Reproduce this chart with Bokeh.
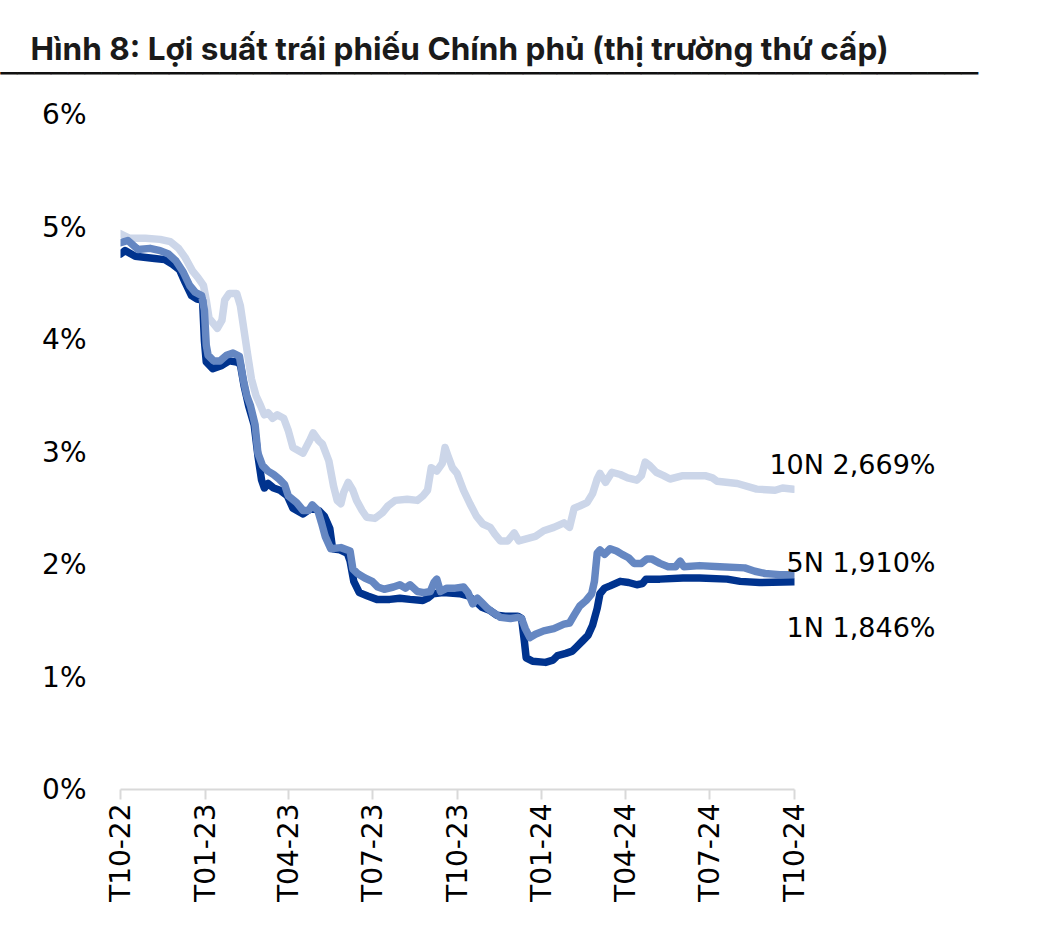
import math
import pandas as pd
from bokeh.plotting import figure
from bokeh.models import (Range1d, FixedTicker, DatetimeTickFormatter,
                          PrintfTickFormatter, Label)
from bokeh.embed import file_html
from bokeh.resources import INLINE

TITLE = "Hình 8:  Lợi suất trái phiếu Chính phủ (thị trường thứ cấp)"

tick_dates = ["2022-10-01", "2023-01-01", "2023-04-01", "2023-07-01", "2023-10-01",
              "2024-01-01", "2024-04-01", "2024-07-01", "2024-10-01"]
y_ticks = [0, 1, 2, 3, 4, 5, 6]

series_names = ["10N", "5N", "1N"]

dates_10n = ["2022-10-01", "2022-10-11", "2022-10-28", "2022-11-13", "2022-11-24", "2022-12-03",
             "2022-12-10", "2022-12-18", "2022-12-24", "2022-12-30", "2023-01-02", "2023-01-05",
             "2023-01-14", "2023-01-19", "2023-01-22", "2023-01-27", "2023-02-04", "2023-02-08",
             "2023-02-12", "2023-02-16", "2023-02-20", "2023-02-25", "2023-03-02", "2023-03-06",
             "2023-03-10", "2023-03-15", "2023-03-20", "2023-03-27", "2023-04-01", "2023-04-06",
             "2023-04-17", "2023-04-24", "2023-04-28", "2023-05-04", "2023-05-08", "2023-05-15",
             "2023-05-20", "2023-05-24", "2023-05-28", "2023-05-31", "2023-06-05", "2023-06-10",
             "2023-06-14", "2023-06-20", "2023-06-25", "2023-07-04", "2023-07-12", "2023-07-18",
             "2023-07-26", "2023-08-08", "2023-08-19", "2023-08-25", "2023-08-30", "2023-09-03",
             "2023-09-09", "2023-09-15", "2023-09-18", "2023-09-21", "2023-09-26", "2023-10-01",
             "2023-10-08", "2023-10-15", "2023-10-22", "2023-10-29", "2023-11-06", "2023-11-11",
             "2023-11-17", "2023-11-25", "2023-12-02", "2023-12-07", "2023-12-16", "2023-12-25",
             "2024-01-03", "2024-01-14", "2024-01-25", "2024-01-31", "2024-02-05", "2024-02-11",
             "2024-02-19", "2024-02-25", "2024-03-01", "2024-03-04", "2024-03-10", "2024-03-17",
             "2024-03-26", "2024-04-03", "2024-04-13", "2024-04-18", "2024-04-22", "2024-04-27",
             "2024-05-04", "2024-05-12", "2024-05-19", "2024-06-02", "2024-06-26", "2024-07-04",
             "2024-07-09", "2024-07-31", "2024-08-21", "2024-09-10", "2024-09-18", "2024-09-30"]
yield_10n = [4.94, 4.90, 4.90, 4.89, 4.87, 4.81,
             4.73, 4.61, 4.55, 4.48, 4.35, 4.19,
             4.10, 4.17, 4.35, 4.41, 4.41, 4.30,
             4.08, 3.86, 3.65, 3.50, 3.41, 3.33,
             3.35, 3.30, 3.33, 3.30, 3.19, 3.04,
             2.99, 3.10, 3.17, 3.10, 3.07, 2.92,
             2.70, 2.57, 2.54, 2.64, 2.73, 2.66,
             2.57, 2.48, 2.42, 2.41, 2.46, 2.52,
             2.57, 2.58, 2.57, 2.61, 2.66, 2.86,
             2.83, 2.90, 3.04, 2.97, 2.86, 2.81,
             2.66, 2.54, 2.43, 2.36, 2.33, 2.27,
             2.21, 2.21, 2.28, 2.21, 2.23, 2.25,
             2.30, 2.33, 2.37, 2.33, 2.50, 2.52,
             2.55, 2.63, 2.76, 2.81, 2.73, 2.82,
             2.80, 2.77, 2.75, 2.79, 2.91, 2.88,
             2.82, 2.79, 2.76, 2.79, 2.79, 2.77,
             2.74, 2.72, 2.67, 2.66, 2.68, 2.669]

dates_5n = ["2022-10-01", "2022-10-09", "2022-10-20", "2022-11-02", "2022-11-13", "2022-11-22",
            "2022-11-30", "2022-12-08", "2022-12-15", "2022-12-21", "2022-12-28", "2022-12-31",
            "2023-01-02", "2023-01-04", "2023-01-10", "2023-01-17", "2023-01-24", "2023-01-31",
            "2023-02-07", "2023-02-11", "2023-02-15", "2023-02-19", "2023-02-24", "2023-02-27",
            "2023-03-04", "2023-03-10", "2023-03-16", "2023-03-22", "2023-03-28", "2023-04-01",
            "2023-04-10", "2023-04-17", "2023-04-23", "2023-04-27", "2023-05-03", "2023-05-07",
            "2023-05-11", "2023-05-17", "2023-05-28", "2023-06-07", "2023-06-10", "2023-06-15",
            "2023-06-23", "2023-07-01", "2023-07-07", "2023-07-14", "2023-07-24", "2023-07-31",
            "2023-08-06", "2023-08-11", "2023-08-19", "2023-08-26", "2023-09-02", "2023-09-06",
            "2023-09-09", "2023-09-13", "2023-09-20", "2023-09-29", "2023-10-08", "2023-10-13",
            "2023-10-18", "2023-10-23", "2023-10-28", "2023-11-03", "2023-11-08", "2023-11-17",
            "2023-11-28", "2023-12-06", "2023-12-10", "2023-12-14", "2023-12-19", "2023-12-25",
            "2024-01-03", "2024-01-14", "2024-01-25", "2024-01-31", "2024-02-05", "2024-02-11",
            "2024-02-18", "2024-02-24", "2024-02-27", "2024-03-01", "2024-03-04", "2024-03-09",
            "2024-03-15", "2024-03-22", "2024-03-28", "2024-04-04", "2024-04-10", "2024-04-18",
            "2024-04-24", "2024-04-29", "2024-05-08", "2024-05-17", "2024-05-25", "2024-05-30",
            "2024-06-03", "2024-06-20", "2024-07-12", "2024-08-08", "2024-08-19", "2024-08-30",
            "2024-09-15", "2024-09-30"]
yield_5n = [4.86, 4.88, 4.80, 4.81, 4.79, 4.76,
            4.70, 4.60, 4.48, 4.42, 4.39, 4.26,
            3.95, 3.86, 3.81, 3.81, 3.86, 3.88,
            3.85, 3.65, 3.50, 3.41, 3.24, 2.99,
            2.88, 2.83, 2.80, 2.76, 2.71, 2.61,
            2.55, 2.48, 2.48, 2.53, 2.48, 2.37,
            2.25, 2.14, 2.15, 2.12, 1.96, 1.92,
            1.88, 1.85, 1.80, 1.78, 1.80, 1.82,
            1.79, 1.82, 1.76, 1.75, 1.76, 1.84,
            1.87, 1.76, 1.79, 1.79, 1.80, 1.75,
            1.65, 1.70, 1.66, 1.61, 1.58, 1.53,
            1.52, 1.53, 1.52, 1.43, 1.35, 1.38,
            1.41, 1.43, 1.47, 1.48, 1.55, 1.63,
            1.68, 1.74, 1.85, 2.10, 2.13, 2.09,
            2.14, 2.12, 2.09, 2.06, 2.01, 2.01,
            2.05, 2.05, 2.01, 1.98, 1.98, 2.03,
            1.98, 1.99, 1.98, 1.97, 1.94, 1.92,
            1.91, 1.910]

dates_1n = ["2022-10-01", "2022-10-06", "2022-10-17", "2022-11-07", "2022-11-18", "2022-11-26",
            "2022-12-04", "2022-12-10", "2022-12-17", "2022-12-23", "2022-12-29", "2022-12-31",
            "2023-01-02", "2023-01-09", "2023-01-19", "2023-01-27", "2023-02-04", "2023-02-08",
            "2023-02-12", "2023-02-17", "2023-02-23", "2023-02-27", "2023-03-03", "2023-03-06",
            "2023-03-10", "2023-03-16", "2023-03-23", "2023-03-31", "2023-04-06", "2023-04-17",
            "2023-04-26", "2023-05-04", "2023-05-10", "2023-05-16", "2023-05-19", "2023-05-27",
            "2023-06-04", "2023-06-07", "2023-06-11", "2023-06-17", "2023-06-26", "2023-07-06",
            "2023-07-20", "2023-07-31", "2023-08-11", "2023-08-25", "2023-08-30", "2023-09-05",
            "2023-09-16", "2023-10-04", "2023-10-13", "2023-10-20", "2023-10-28", "2023-11-06",
            "2023-11-13", "2023-11-22", "2023-12-06", "2023-12-10", "2023-12-13", "2023-12-15",
            "2023-12-22", "2024-01-05", "2024-01-13", "2024-01-18", "2024-01-27", "2024-02-03",
            "2024-02-08", "2024-02-14", "2024-02-20", "2024-02-25", "2024-03-01", "2024-03-04",
            "2024-03-09", "2024-03-15", "2024-03-26", "2024-04-04", "2024-04-13", "2024-04-19",
            "2024-04-23", "2024-05-08", "2024-06-02", "2024-06-20", "2024-07-20", "2024-08-03",
            "2024-08-24", "2024-09-30"]
yield_1n = [4.76, 4.79, 4.74, 4.72, 4.71, 4.67,
            4.62, 4.51, 4.39, 4.36, 4.35, 3.99,
            3.80, 3.74, 3.77, 3.81, 3.80, 3.78,
            3.59, 3.41, 3.24, 2.97, 2.75, 2.68,
            2.72, 2.68, 2.66, 2.61, 2.50, 2.45,
            2.50, 2.48, 2.43, 2.32, 2.14, 2.13,
            2.10, 2.03, 1.85, 1.75, 1.72, 1.69,
            1.69, 1.70, 1.69, 1.68, 1.70, 1.74,
            1.75, 1.74, 1.72, 1.68, 1.62, 1.59,
            1.55, 1.54, 1.54, 1.52, 1.32, 1.17,
            1.14, 1.13, 1.15, 1.19, 1.21, 1.23,
            1.27, 1.32, 1.37, 1.46, 1.61, 1.74,
            1.79, 1.81, 1.85, 1.84, 1.82, 1.83,
            1.87, 1.87, 1.88, 1.88, 1.87, 1.85,
            1.84, 1.846]

colors = {"10N": "#CCD6E9", "5N": "#6587C2", "1N": "#00338E"}

FONT = "DejaVu Sans"
TICK_SIZE = "28px"

start = pd.Timestamp(tick_dates[0])
end = pd.Timestamp(tick_dates[-1])
start_ms = start.value // 10**6
end_ms = end.value // 10**6

p = figure(width=1040, height=940, x_axis_type="datetime",
           x_range=Range1d(start, end), y_range=Range1d(0, 6),
           toolbar_location=None, output_backend="svg",
           min_border_left=120, min_border_right=246, min_border_top=114, min_border_bottom=151)
p.outline_line_color = None
p.grid.visible = False

data = {"10N": (dates_10n, yield_10n), "5N": (dates_5n, yield_5n), "1N": (dates_1n, yield_1n)}
for name in ["10N", "1N", "5N"]:
    d, v = data[name]
    p.line(x=pd.to_datetime(d), y=v, line_width=7.5, line_color=colors[name],
           line_join="round", line_cap="round")

# x axis
tick_ms = [pd.Timestamp(s).value // 10**6 for s in tick_dates]
p.xaxis.ticker = FixedTicker(ticks=tick_ms)
fmt = "T%m-%y"
p.xaxis.formatter = DatetimeTickFormatter(days=fmt, months=fmt, years=fmt, hours=fmt,
                                          minutes=fmt, seconds=fmt, strip_leading_zeros=False)
p.xaxis.major_label_orientation = math.pi / 2
p.xaxis.axis_line_color = "#D9D9D9"
p.xaxis.axis_line_width = 2
p.xaxis.major_tick_line_color = "#D9D9D9"
p.xaxis.major_tick_line_width = 2
p.xaxis.major_tick_out = 10
p.xaxis.major_tick_in = 0
p.xaxis.minor_tick_line_color = None
p.xaxis.major_label_standoff = 4
p.xaxis.major_label_text_font = FONT
p.xaxis.major_label_text_font_size = TICK_SIZE
p.xaxis.major_label_text_color = "black"

# y axis
p.yaxis.ticker = FixedTicker(ticks=y_ticks)
p.yaxis.formatter = PrintfTickFormatter(format="%d%%")
p.yaxis.axis_line_color = None
p.yaxis.major_tick_line_color = None
p.yaxis.minor_tick_line_color = None
p.yaxis.major_tick_out = 0
p.yaxis.major_tick_in = 0
p.yaxis.major_label_standoff = 34
p.yaxis.major_label_text_font = FONT
p.yaxis.major_label_text_font_size = TICK_SIZE
p.yaxis.major_label_text_color = "black"

# title (placed in the top panel so it is not clipped to the frame)
p.add_layout(Label(x=start_ms, y=6.591, x_offset=-90, text=TITLE, text_font="Inter",
                   text_font_style="bold", text_font_size="31.5px", text_color="#1a1a1a",
                   text_align="left", text_baseline="middle"), "above")
# rule under the title, drawn with box-drawing characters that join seamlessly
p.add_layout(Label(x=start_ms, y=6.364, x_offset=-120, text="\u2500" * 58, text_font=FONT,
                   text_font_size="28px", text_color="#111111", text_align="left",
                   text_baseline="middle"), "above")

# end-of-line labels, one text block in the right panel
lines = []
for name in series_names:
    last = data[name][1][-1]
    lines.append(f"{name} {last:.3f}%".replace(".", ","))
block = lines[0] + "\n\n\n" + lines[1] + "\n\n" + lines[2]
p.add_layout(Label(x=end_ms, y=3.027, x_offset=141, text=block, text_font=FONT,
                   text_font_size="27px", text_line_height=1.05, text_color="black",
                   text_align="right", text_baseline="top"), "right")

open("out.html", "w").write(file_html(p, INLINE))
